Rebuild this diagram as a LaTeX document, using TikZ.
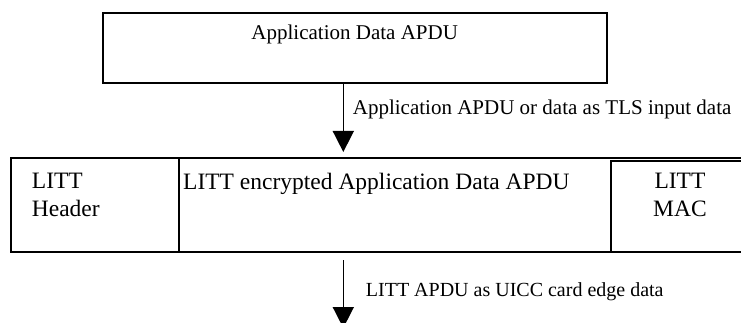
\documentclass[tikz,border=0pt]{standalone}
\usepackage{fontspec}
\setmainfont{Liberation Serif}
\usetikzlibrary{arrows.meta,positioning,calc}

\begin{document}
\begin{tikzpicture}[
  x=1pt, y=-1pt,
  box/.style={draw, rectangle, inner sep=0pt, line width=2pt},
  cell/.style={draw, rectangle, inner sep=0pt, line width=1.8pt},
  celltext/.style={inner sep=0pt, font=\fontsize{23.5}{27.5}\selectfont},
  toptext/.style={inner sep=0pt, font=\fontsize{21}{25}\selectfont},
  lbl/.style={inner sep=0pt, anchor=base west},
  arr/.style={-{Triangle[length=21pt, width=21pt]}, line width=1.6pt},
]
\useasboundingbox (0,0) rectangle (741,323);
\clip (0,0) rectangle (741,323);

% ---------- application data ----------
\node[box, minimum width=504.6pt, minimum height=70pt] (apdu) at (355,47.7) {};
\node[toptext, anchor=base] (apdutext) at (354.7,40) {Application Data APDU};

% ---------- LITT packet ----------
\node[box, minimum width=749.3pt, minimum height=94pt] (frame) at (385.35,204.7) {};
\node[cell, minimum width=168.3pt, minimum height=94pt] (hdr) at (94.85,204.7) {};
\node[cell, minimum width=149.3pt, minimum height=91pt] (mac) at (685.35,206.2) {};
\node[celltext, anchor=north west, align=left] (hdrtext) at (31.7,173.4) {LITT\\Header};
\node[celltext, anchor=base west] (enctext) at (183,189.3) {LITT encrypted Application Data APDU};
\node[celltext, anchor=north, align=center] (mactext) at (680,173.4) {LITT\\MAC};

% ---------- arrows ----------
\coordinate (out) at (343.3,328);
\draw[arr, shorten >=4.7pt] (apdu.south -| out) -- (frame.north -| out);
\draw[arr] ([yshift=-7.3pt]frame.south -| out) -- (out);
\node[lbl, font=\fontsize{21}{25}\selectfont] (inlbl) at (352.7,114.5)
  {Application APDU or data as TLS input data};
\node[lbl, font=\fontsize{20}{24}\selectfont] (outlbl) at (365.7,296)
  {LITT APDU as UICC card edge data};

\end{tikzpicture}
\end{document}
